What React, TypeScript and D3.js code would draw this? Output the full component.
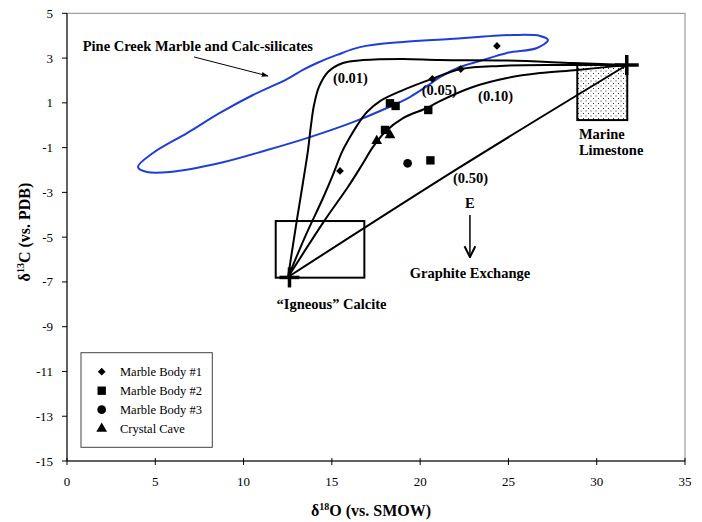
import React from "react";
import * as d3 from "d3";

// ---- data ----
const xTicks = [0, 5, 10, 15, 20, 25, 30, 35];
const yTicks = [5, 3, 1, -1, -3, -5, -7, -9, -11, -13, -15];

const marble1: [number, number][] = [
  [24.35, 3.54], [22.3, 2.51], [20.69, 2.07], [15.46, -2.04],
];
const marble2: [number, number][] = [
  [18.29, 0.98], [18.61, 0.86], [20.46, 0.68], [18.01, -0.21], [20.58, -1.57],
];
const marble3: [number, number][] = [[19.29, -1.7]];
const crystalCave: [number, number][] = [[18.29, -0.44], [17.54, -0.7]];

const curve001: [number, number][] = [
  [12.52, -6.78], [13.02, -4.23], [13.36, -2.58], [13.65, -1.11], [13.82, 0.01],
  [13.99, 0.9], [14.27, 1.71], [14.78, 2.38], [15.63, 2.78],
  [16.76, 2.91], [19.03, 2.96], [21.12, 2.91], [24.92, 2.89], [28.65, 2.78], [31.71, 2.69],
];
const curve005: [number, number][] = [
  [12.52, -6.78], [13.53, -4.9], [14.5, -3.25], [15.06, -2.22], [15.57, -1.2],
  [16.03, -0.53], [16.48, 0.05], [16.99, 0.59], [17.73, 1.08], [19.03, 1.57],
  [20.67, 2.07], [22.31, 2.51], [24.52, 2.65], [27.92, 2.69], [31.71, 2.69],
];
const curve010: [number, number][] = [
  [12.52, -6.78], [14.61, -4.23], [15.91, -2.76], [16.7, -1.78], [17.33, -0.97],
  [18.01, -0.3], [19.03, 0.32], [20.39, 0.77], [21.12, 1.08], [22.99, 1.71],
  [24.92, 2.11], [26.79, 2.33], [28.88, 2.47], [31.71, 2.69],
];
const curve050: [number, number][] = [
  [12.52, -6.78], [22.1, -1.95], [31.71, 2.69],
];
const pineCreek: [number, number][] = [
  [4.02, -1.87], [4.87, -1.24], [6.8, -0.35], [8.66, 0.55], [10.53, 1.35],
  [12.46, 2.06], [13.36, 2.47], [14.16, 2.78], [15.29, 3.14], [16.59, 3.49],
  [19.03, 3.72], [21.69, 3.85], [25.26, 4.03], [26.79, 3.99], [27.24, 3.81],
  [26.62, 3.45], [24.92, 3.23], [23.39, 2.87], [22.25, 2.6], [21.12, 2.15],
  [20.56, 1.84], [19.42, 1.26], [18.12, 0.77], [16.2, 0.14], [13.76, -0.53],
  [11.33, -1.11], [8.66, -1.69], [5.83, -2.09], [4.53, -2.09],
];
const igneousBox = { x0: 11.82, x1: 16.84, y0: -6.81, y1: -4.28 };
const marineBox = { x0: 28.9, x1: 31.73, y0: 0.23, y1: 2.69 };
const igneousPoint: [number, number] = [12.6, -6.8];
const marinePoint: [number, number] = [31.7, 2.69];

const legendItems = ["Marble Body #1", "Marble Body #2", "Marble Body #3", "Crystal Cave"];

const W = 702, H = 522;
const margin = { left: 67, right: 17, top: 13.3, bottom: 61 };

export default function App() {
  const x = d3.scaleLinear().domain([0, 35]).range([margin.left, W - margin.right]);
  const y = d3.scaleLinear().domain([-15, 5]).range([H - margin.bottom, margin.top]);

  const line = d3.line<[number, number]>()
    .x((d) => x(d[0])).y((d) => y(d[1]))
    .curve(d3.curveCatmullRom.alpha(0.5));
  const smooth = d3.line<[number, number]>()
    .x((d) => x(d[0])).y((d) => y(d[1]))
    .curve(d3.curveNatural);
  const loop = d3.line<[number, number]>()
    .x((d) => x(d[0])).y((d) => y(d[1]))
    .curve(d3.curveCatmullRomClosed.alpha(0.5));

  const font = "Liberation Serif, Times New Roman, Times, serif";
  const sym = (type: any, size: number) => d3.symbol().type(type).size(size)() as string;

  const diamondPath = sym(d3.symbolSquare, 30);
  const squarePath = sym(d3.symbolSquare, 70);
  const circlePath = sym(d3.symbolCircle, 60);
  const trianglePath = sym(d3.symbolTriangle, 50);
  const legendPaths = [diamondPath, squarePath, circlePath, trianglePath];
  const legendRot = [45, 0, 0, 0];

  const cross = (p: [number, number], hx: number, hy: number) => (
    <g stroke="#000" strokeWidth={3.5}>
      <line x1={x(p[0]) - hx} x2={x(p[0]) + hx} y1={y(p[1])} y2={y(p[1])} />
      <line x1={x(p[0])} x2={x(p[0])} y1={y(p[1]) - hy} y2={y(p[1]) + hy} />
    </g>
  );

  const bold = { style: { fontFamily: font, fontWeight: 700, fontSize: 14.5 } };
  const reg = (size: number) => ({ style: { fontFamily: font, fontSize: size } });

  return (
    <svg width={W} height={H} style={{ position: "absolute", left: 0, top: 0, background: "#fff" }}>
      <defs>
        <pattern id="stipple" width="5" height="5" patternUnits="userSpaceOnUse">
          <rect x="0.5" y="0.5" width="1" height="1" fill="#333" />
          <rect x="3" y="3" width="1" height="1" fill="#333" />
        </pattern>
        <marker id="arr" viewBox="0 0 10 10" refX="9" refY="5" markerWidth="7" markerHeight="7" orient="auto">
          <path d="M0,1.5 L10,5 L0,8.5 Z" fill="#000" />
        </marker>
        <marker id="arrV" viewBox="0 0 10 10" refX="9" refY="5" markerWidth="9" markerHeight="9" orient="auto">
          <path d="M1,1 L9,5 L1,9" fill="none" stroke="#000" strokeWidth={1.5} />
        </marker>
      </defs>

      {/* frame */}
      <rect x={x(0)} y={y(5)} width={x(35) - x(0)} height={y(-15) - y(5)} fill="none" stroke="#888" strokeWidth={1} />
      <line x1={x(0)} x2={x(0)} y1={y(5)} y2={y(-15)} stroke="#000" />
      <line x1={x(0)} x2={x(35)} y1={y(-15)} y2={y(-15)} stroke="#000" />

      {/* y ticks */}
      {yTicks.map((t) => (
        <g key={"y" + t}>
          <line x1={x(0) - 5} x2={x(0)} y1={y(t)} y2={y(t)} stroke="#000" />
          <text x={53} y={y(t)} dy="0.35em" textAnchor="end" {...reg(13)}>{t}</text>
        </g>
      ))}
      {/* x ticks */}
      {xTicks.map((t) => (
        <g key={"x" + t}>
          <line x1={x(t)} x2={x(t)} y1={y(-15) - 3} y2={y(-15) + 4} stroke="#000" />
          <text x={x(t)} y={481} dy="0.35em" textAnchor="middle" {...reg(13)}>{t}</text>
        </g>
      ))}

      {/* axis titles */}
      <text x={371} y={516} textAnchor="middle" style={{ fontFamily: font, fontWeight: 700, fontSize: 16 }}>
        δ<tspan fontSize={10} dy={-6}>18</tspan><tspan dy={6}>O (vs. SMOW)</tspan>
      </text>
      <text transform="translate(30,232) rotate(-90)" textAnchor="middle" style={{ fontFamily: font, fontWeight: 700, fontSize: 16 }}>
        δ<tspan fontSize={10} dy={-6}>13</tspan><tspan dy={6}>C (vs. PDB)</tspan>
      </text>

      {/* boxes */}
      <rect x={x(igneousBox.x0)} y={y(igneousBox.y1)} width={x(igneousBox.x1) - x(igneousBox.x0)}
        height={y(igneousBox.y0) - y(igneousBox.y1)} fill="none" stroke="#000" strokeWidth={2} />
      <rect x={x(marineBox.x0)} y={y(marineBox.y1)} width={x(marineBox.x1) - x(marineBox.x0)}
        height={y(marineBox.y0) - y(marineBox.y1)} fill="url(#stipple)" stroke="#000" strokeWidth={2} />

      {/* Pine Creek loop */}
      <path d={loop(pineCreek) as string} fill="none" stroke="#1e3ed8" strokeWidth={2} />

      {/* mixing curves */}
      {[curve001, curve005, curve010].map((c, i) => (
        <path key={"c" + i} d={line(c) as string} fill="none" stroke="#000" strokeWidth={2} />
      ))}
      <path d={smooth(curve050) as string} fill="none" stroke="#000" strokeWidth={2} />

      {cross(igneousPoint, 10, 10)}
      {cross(marinePoint, 12, 10)}

      {/* data points */}
      {marble1.map((d, i) => <path key={"m1" + i} d={diamondPath} transform={`translate(${x(d[0])},${y(d[1])}) rotate(45)`} fill="#000" />)}
      {marble2.map((d, i) => <path key={"m2" + i} d={squarePath} transform={`translate(${x(d[0])},${y(d[1])})`} fill="#000" />)}
      {marble3.map((d, i) => <path key={"m3" + i} d={circlePath} transform={`translate(${x(d[0])},${y(d[1])})`} fill="#000" />)}
      {crystalCave.map((d, i) => <path key={"cc" + i} d={trianglePath} transform={`translate(${x(d[0])},${y(d[1])})`} fill="#000" />)}

      {/* annotations */}
      <text x={x(0.89)} y={y(3.32)} {...bold}>Pine Creek Marble and Calc-silicates</text>
      <line x1={x(7.19)} y1={y(3.05)} x2={x(11.38)} y2={y(2.2)} stroke="#000" strokeWidth={1} markerEnd="url(#arr)" />
      <text x={x(15.06)} y={y(1.89)} {...bold}>(0.01)</text>
      <text x={x(20.09)} y={y(1.35)} {...bold}>(0.05)</text>
      <text x={x(23.28)} y={y(1.08)} {...bold}>(0.10)</text>
      <text x={x(21.86)} y={y(-2.6)} {...bold}>(0.50)</text>
      <text x={x(22.82)} y={y(-3.72)} textAnchor="middle" {...bold}>E</text>
      <line x1={x(22.82)} x2={x(22.82)} y1={y(-4.01)} y2={y(-5.89)} stroke="#000" strokeWidth={1.5} markerEnd="url(#arrV)" />
      <text x={x(22.82)} y={y(-6.82)} textAnchor="middle" {...bold}>Graphite Exchange</text>
      <text x={x(11.87)} y={y(-8.19)} {...bold}>“Igneous” Calcite</text>
      <text x={x(28.99)} y={y(-0.62)} {...bold}>Marine</text>
      <text x={x(28.99)} y={y(-1.35)} {...bold}>Limestone</text>

      {/* legend */}
      <rect x={81} y={352.7} width={131.3} height={94.6} fill="#fff" stroke="#444" strokeWidth={1} />
      {legendItems.map((name, i) => {
        const cy = 371.7 + i * 19;
        return (
          <g key={name}>
            <path d={legendPaths[i]} transform={`translate(101.7,${cy}) rotate(${legendRot[i]})`} fill="#000" />
            <text x={120} y={cy} dy="0.35em" {...reg(12.5)}>{name}</text>
          </g>
        );
      })}
    </svg>
  );
}
